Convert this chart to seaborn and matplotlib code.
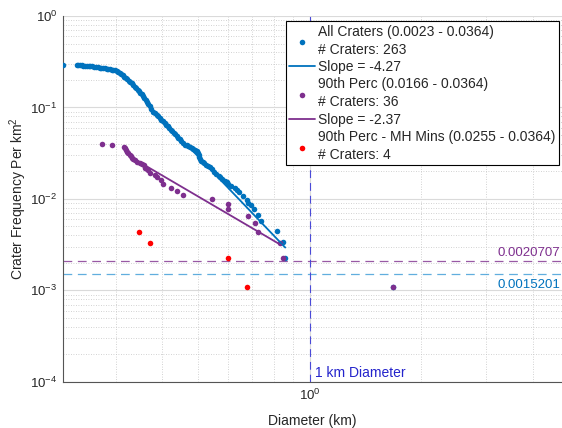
import matplotlib
matplotlib.use('Agg')
import matplotlib.pyplot as plt
import matplotlib.transforms as mtransforms
from matplotlib.ticker import LogLocator, NullFormatter
import seaborn as sns
import pandas as pd

# MATLAB default colours
BLUE = '#0072BD'
PURPLE = '#7E2F8E'
RED = '#FF0000'

# All craters (cumulative frequency per km^2 vs diameter in km)
all_diam = [0.2157, 0.2348, 0.2375, 0.2400, 0.2425, 0.2450, 0.2475, 0.2500, 0.2530, 0.2560,
            0.2590, 0.2620, 0.2650, 0.2680, 0.2710, 0.2740, 0.2770, 0.2800, 0.2830, 0.2860,
            0.2890, 0.2920, 0.2950, 0.2980, 0.3010, 0.3040, 0.3070, 0.3100, 0.3130, 0.3160,
            0.3190, 0.3220, 0.3250, 0.3280, 0.3310, 0.3340, 0.3370, 0.3400, 0.3430, 0.3460,
            0.3490, 0.3520, 0.3550, 0.3580, 0.3610, 0.3640, 0.3670, 0.3700, 0.3740, 0.3780,
            0.3820, 0.3860, 0.3900, 0.3940, 0.3980, 0.4020, 0.4060, 0.4100, 0.4140, 0.4180,
            0.4220, 0.4260, 0.4300, 0.4340, 0.4380, 0.4420, 0.4460, 0.4500, 0.4550, 0.4600,
            0.4650, 0.4700, 0.4750, 0.4800, 0.4850, 0.4900, 0.4950, 0.5000, 0.5010, 0.5030,
            0.5050, 0.5100, 0.5150, 0.5200, 0.5250, 0.5300, 0.5380, 0.5450, 0.5520, 0.5600,
            0.5680, 0.5730, 0.5800, 0.5900, 0.5970, 0.6030, 0.6150, 0.6290, 0.6370, 0.6460,
            0.6600, 0.6760, 0.6830, 0.6960, 0.7080, 0.7270, 0.7400, 0.8180, 0.8450, 0.8590,
            1.6800]
all_freq = [0.292, 0.291, 0.290, 0.289, 0.288, 0.287, 0.286, 0.285, 0.284, 0.283,
            0.281, 0.279, 0.277, 0.275, 0.273, 0.271, 0.269, 0.267, 0.265, 0.263,
            0.261, 0.259, 0.257, 0.254, 0.249, 0.243, 0.237, 0.230, 0.224, 0.218,
            0.211, 0.204, 0.197, 0.190, 0.183, 0.176, 0.169, 0.163, 0.157, 0.151,
            0.145, 0.139, 0.133, 0.127, 0.121, 0.115, 0.109, 0.103, 0.096, 0.0900,
            0.0865, 0.0830, 0.0797, 0.0765, 0.0735, 0.0705, 0.0680, 0.0650, 0.0625, 0.0598,
            0.0574, 0.0551, 0.0529, 0.0508, 0.0487, 0.0468, 0.0450, 0.0432, 0.0410, 0.0392,
            0.0385, 0.0375, 0.0366, 0.0357, 0.0349, 0.0340, 0.0332, 0.0320, 0.0305, 0.0290,
            0.0275, 0.0262, 0.0252, 0.0244, 0.0237, 0.0230, 0.0222, 0.0210, 0.0198, 0.0188,
            0.0180, 0.0175, 0.0166, 0.0158, 0.0153, 0.0146, 0.0140, 0.0131, 0.0126, 0.0120,
            0.0108, 0.0097, 0.0091, 0.0085, 0.0078, 0.0066, 0.0057, 0.0045, 0.0034, 0.00228,
            0.00108]

# 90th percentile craters
perc_diam = [0.2745, 0.2920, 0.3150, 0.3170, 0.3190, 0.3210, 0.3240, 0.3270, 0.3300, 0.3320,
             0.3340, 0.3370, 0.3410, 0.3480, 0.3520, 0.3560, 0.3600, 0.3630, 0.3670, 0.3710,
             0.3820, 0.3870, 0.3980, 0.4030, 0.4220, 0.4390, 0.4540, 0.5440, 0.6010, 0.6030,
             0.6810, 0.7120, 0.7270, 0.8320, 0.8460, 1.6800]
perc_freq = [0.0399, 0.0389, 0.0367, 0.0356, 0.0340, 0.0330, 0.0316, 0.0304, 0.0292, 0.0282,
             0.0272, 0.0264, 0.0256, 0.0250, 0.0242, 0.0234, 0.0216, 0.0211, 0.0207, 0.0194,
             0.0183, 0.0173, 0.0161, 0.0146, 0.0131, 0.0122, 0.0110, 0.0099, 0.0088, 0.0077,
             0.0065, 0.0055, 0.0044, 0.0033, 0.00225, 0.00108]

# 90th percentile - MH mins
mh_diam = [0.347, 0.371, 0.601, 0.678]
mh_freq = [0.0044, 0.0033, 0.00225, 0.00108]

# power-law fits (end points)
all_fit_diam = [0.474, 0.859]
all_fit_freq = [0.0364, 0.00294]
perc_fit_diam = [0.348, 0.836]
perc_fit_freq = [0.0251, 0.00314]

perc_level = 0.0020707
all_level = 0.0015201

labels = ['All Craters (0.0023 - 0.0364)\n# Craters: 263',
          'Slope = -4.27',
          '90th Perc (0.0166 - 0.0364)\n# Craters: 36',
          'Slope = -2.37',
          '90th Perc - MH Mins (0.0255 - 0.0364)\n# Craters: 4']

sns.set_style('white')
plt.rcParams['font.family'] = ['Liberation Sans', 'DejaVu Sans']
plt.rcParams['mathtext.fontset'] = 'custom'
plt.rcParams['mathtext.rm'] = 'Liberation Sans'
plt.rcParams['mathtext.it'] = 'Liberation Sans:italic'

fig = plt.figure(figsize=(5.62, 4.28), dpi=100)
ax = fig.add_axes([0.112, 0.108, 0.888, 0.8545])
ax.set_xscale('log')
ax.set_yscale('log')

all_df = pd.DataFrame({'diam': all_diam, 'freq': all_freq})
perc_df = pd.DataFrame({'diam': perc_diam, 'freq': perc_freq})
mh_df = pd.DataFrame({'diam': mh_diam, 'freq': mh_freq})

sns.scatterplot(data=all_df, x='diam', y='freq', color=BLUE, s=16, linewidth=0,
                ax=ax, label=labels[0], zorder=3)
sns.lineplot(x=all_fit_diam, y=all_fit_freq, color=BLUE, lw=1.3, sort=False,
             estimator=None, ax=ax, label=labels[1], zorder=4)
sns.scatterplot(data=perc_df, x='diam', y='freq', color=PURPLE, s=16, linewidth=0,
                ax=ax, label=labels[2], zorder=3)
sns.lineplot(x=perc_fit_diam, y=perc_fit_freq, color=PURPLE, lw=1.3, sort=False,
             estimator=None, ax=ax, label=labels[3], zorder=4)
sns.scatterplot(data=mh_df, x='diam', y='freq', color=RED, s=16, linewidth=0,
                ax=ax, label=labels[4], zorder=3)

# reference lines
ax.axhline(perc_level, color=PURPLE, lw=0.9, ls=(0, (7, 4.5)), alpha=0.8, zorder=2)
ax.axhline(all_level, color='#3a9ad6', lw=0.9, ls=(0, (7, 4.5)), alpha=0.8, zorder=2)
ax.axvline(1, color='#4a4ad8', lw=0.8, ls=(0, (7, 4.5)), zorder=2)

trans_y = mtransforms.blended_transform_factory(ax.transAxes, ax.transData)
ax.annotate(f'{perc_level}', xy=(1, perc_level), xycoords=trans_y, xytext=(-1, 1.5),
            textcoords='offset points', ha='right', va='bottom', color=PURPLE, fontsize=9.5)
ax.annotate(f'{all_level}', xy=(1, all_level), xycoords=trans_y, xytext=(-1, -4),
            textcoords='offset points', ha='right', va='top', color=BLUE, fontsize=9.5)
trans_x = mtransforms.blended_transform_factory(ax.transData, ax.transAxes)
ax.annotate('1 km Diameter', xy=(1, 0), xycoords=trans_x, xytext=(4, 1),
            textcoords='offset points', ha='left', va='bottom', color='#2424cc', fontsize=10)

ax.set_xlim(0.2157, 4.8)
ax.set_ylim(1e-4, 1)
ax.xaxis.set_major_locator(LogLocator(base=10))
ax.xaxis.set_minor_locator(LogLocator(base=10, subs=range(2, 10)))
ax.xaxis.set_minor_formatter(NullFormatter())
ax.yaxis.set_minor_locator(LogLocator(base=10, subs=range(2, 10)))
ax.yaxis.set_minor_formatter(NullFormatter())

ax.grid(which='major', color='#dadada', lw=0.8, ls='-')
ax.grid(which='minor', color='#c4c4c4', lw=0.6, ls=(0, (1, 2)))
ax.set_axisbelow(True)

for side in ['top', 'right']:
    ax.spines[side].set_visible(False)
for side in ['left', 'bottom']:
    ax.spines[side].set_color('#555555')
    ax.spines[side].set_linewidth(0.8)
ax.tick_params(which='both', direction='in', color='#555555', labelcolor='#262626',
               labelsize=9.5)
ax.tick_params(which='major', length=4, pad=4)
ax.tick_params(which='minor', length=2)

ax.set_xlabel('Diameter (km)', fontsize=10, color='#262626', labelpad=8)
ax.set_ylabel('Crater Frequency Per km$^2$', fontsize=10, color='#262626', labelpad=1)

leg = ax.legend(loc='upper right', bbox_to_anchor=(0.994, 0.986), borderaxespad=0,
                frameon=True, fancybox=False, edgecolor='black', framealpha=1,
                fontsize=10, handlelength=1.87, handletextpad=0.2, labelspacing=0.24,
                borderpad=0.25)
leg.get_frame().set_linewidth(0.8)
for t in leg.get_texts():
    t.set_linespacing(1.36)

fig.savefig('out.png', dpi=100)
